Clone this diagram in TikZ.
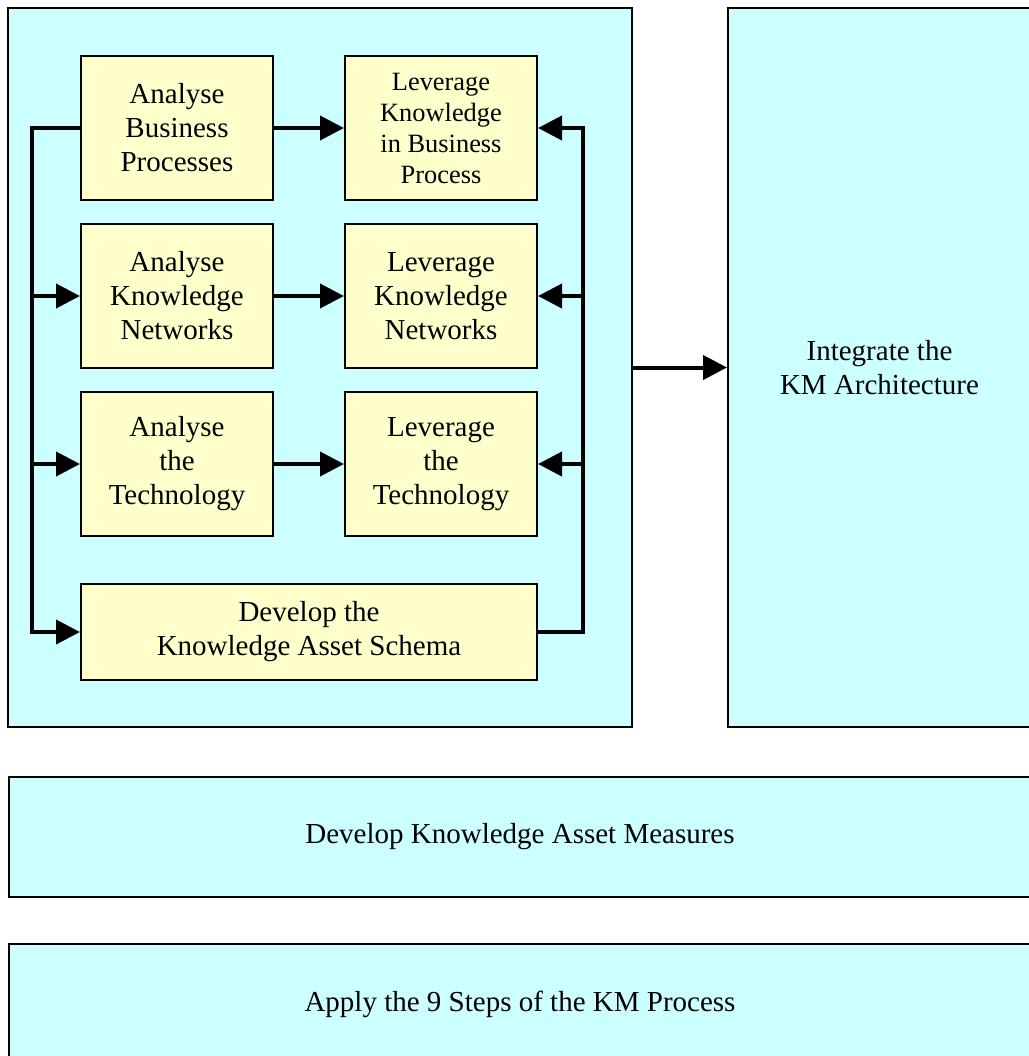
\documentclass[tikz,border=0pt]{standalone}
\usepackage{fontspec}
\setmainfont{Liberation Serif}
\usetikzlibrary{arrows.meta}
\definecolor{paleblue}{HTML}{CCFFFF}
\definecolor{paleyellow}{HTML}{FFFFCC}

\begin{document}
\begin{tikzpicture}[x=0.5pt,y=-0.5pt,
    panel/.style={draw,fill=paleblue,line width=1pt,inner sep=0pt,align=center,
      font=\fontsize{14.5}{17}\selectfont},
    task/.style={draw,fill=paleyellow,line width=1pt,inner sep=2pt,align=center,
      minimum width=96pt,minimum height=72pt,font=\fontsize{14.5}{17}\selectfont},
    flow/.style={line width=2pt},
    >={Triangle[length=12pt,width=12pt]}]
    \useasboundingbox (0,0) rectangle (1029,1056);
    \clip (0,0) rectangle (1029,1056);

    \node[panel,minimum width=312pt,minimum height=359.5pt] (plan) at (320,367.5) {};
    \node[panel,minimum width=151.5pt,minimum height=359.5pt] (integ) at (879.5,367.5)
      {Integrate the\\KM Architecture};
    \node[panel,minimum width=511pt,minimum height=60pt] (measures) at (520,837)
      {Develop Knowledge Asset Measures};
    \node[panel,minimum width=511pt,minimum height=60pt] (apply) at (520,1004)
      {Apply the 9 Steps of the KM Process};

    \node[task] (abp) at (177,128) {Analyse\\Business\\Processes};
    \node[task,font=\fontsize{13.2}{15.5}\selectfont] (lbp) at (441,128)
      {Leverage\\Knowledge\\in Business\\Process};
    \node[task] (akn) at (177,296) {Analyse\\Knowledge\\Networks};
    \node[task] (lkn) at (441,296) {Leverage\\Knowledge\\Networks};
    \node[task] (atc) at (177,464) {Analyse\\the\\Technology};
    \node[task] (ltc) at (441,464) {Leverage\\the\\Technology};
    \node[task,minimum width=228pt,minimum height=48pt] (schema) at (309,632)
      {Develop the\\Knowledge Asset Schema};

    \coordinate (lbus) at (32,128);
    \coordinate (rbus) at (583,128);

    \foreach \a/\b in {abp/lbp,akn/lkn,atc/ltc}
      \draw[flow,->] (\a) -- (\b);

    \draw[flow,->] (abp.west) -- (lbus) |- (schema.west);
    \foreach \n in {akn,atc}
      \draw[flow,->] (lbus |- \n.west) -- (\n.west);

    \draw[flow,->] (schema.east) -| (rbus) -- (lbp.east);
    \foreach \n in {lkn,ltc}
      \draw[flow,->] (rbus |- \n.east) -- (\n.east);

    \draw[flow,->] (plan.east) -- (integ.west);
\end{tikzpicture}
\end{document}
